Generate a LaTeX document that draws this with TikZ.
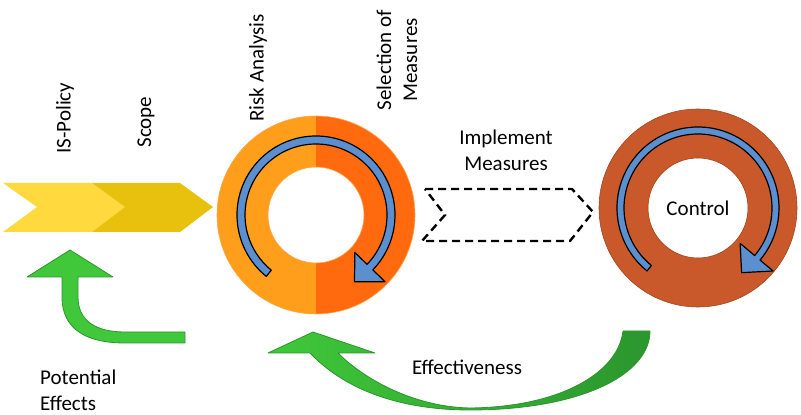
\documentclass[tikz,border=0pt]{standalone}
\usepackage{fontspec}
\setmainfont{Carlito}
\usepackage{xcolor}
\usepackage{tikz}
\usetikzlibrary{calc}

\definecolor{policyyellow}{HTML}{FFD93D}
\definecolor{scopeyellow}{HTML}{E8C00E}
\definecolor{riskorange}{HTML}{FF9E1A}
\definecolor{selectorange}{HTML}{FF6A0E}
\definecolor{controlrust}{HTML}{C9592B}
\definecolor{loopblue}{HTML}{5C8FD0}
\definecolor{effectgreen}{HTML}{40C83A}
\definecolor{effectdark}{HTML}{2B962E}

\begin{document}
\begin{tikzpicture}[x=1pt, y=1pt,
  txt/.style={font=\fontsize{21}{26}\selectfont, inner sep=0pt, align=center},
  loop/.style={fill=loopblue, draw=black, line width=1.2pt, line join=round},
  greenarrow/.style={draw=effectdark, line width=0.8pt, line join=round}]

\useasboundingbox (0,0) rectangle (801,415);

\coordinate (risk) at (316,200);
\coordinate (ctrl) at (698,207);

% chevrons
\fill[policyyellow] (3,232) -- (92,232) -- (125,208) -- (92,183) -- (3,183) -- (37,208) -- cycle;
\fill[scopeyellow] (92,232) -- (180,232) -- (213,208) -- (180,183) -- (92,183) -- (125,208) -- cycle;

% first ring
\fill[riskorange] ($(risk)+(90:99)$) arc[start angle=90, end angle=270, radius=99]
  -- ($(risk)+(270:48)$) arc[start angle=270, end angle=90, radius=48] -- cycle;
\fill[selectorange] ($(risk)+(90:99)$) arc[start angle=90, end angle=-90, radius=99]
  -- ($(risk)+(-90:48)$) arc[start angle=-90, end angle=90, radius=48] -- cycle;
\draw[orange!70, line width=0.6pt] (risk) circle[radius=99];
\draw[orange!70, line width=0.6pt] (risk) circle[radius=48];
\path[loop] ($(risk)+(231:79)$) arc[start angle=231, end angle=-44, radius=79]
  -- ($(risk)+(-44:96)$) -- ($(risk)+(-60:77)$) -- ($(risk)+(-44:54)$)
  -- ($(risk)+(-44:71)$) arc[start angle=-44, end angle=231, radius=71] -- cycle;

% second ring
\fill[controlrust, even odd rule] (ctrl) circle[radius=99] (ctrl) circle[radius=50];
\draw[controlrust!80!black, line width=0.6pt] (ctrl) circle[radius=99];
\draw[controlrust!80!black, line width=0.6pt] (ctrl) circle[radius=50];
\path[loop] ($(ctrl)+(231:81)$) arc[start angle=231, end angle=-40, radius=81]
  -- ($(ctrl)+(-40:98)$) -- ($(ctrl)+(-56:78)$) -- ($(ctrl)+(-40:55)$)
  -- ($(ctrl)+(-40:74)$) arc[start angle=-40, end angle=231, radius=74] -- cycle;
\node[txt] (control) at (ctrl) {Control};

% dashed step
\draw[dashed, line width=2.4pt, dash pattern=on 8pt off 5pt]
  (425,226) -- (572,226) -- (593,203) -- (570,174) -- (422,174) -- (445,200) -- cycle;

% green arrows
\path[greenarrow, fill=effectgreen] (27,138) -- (62,138) -- (62,118) .. controls (62,86) and (86,72) .. (125,72)
  -- (185,72) -- (185,83) -- (125,83) .. controls (96,83) and (78,94) .. (78,118)
  -- (78,138) -- (113,138) -- (70,165) -- cycle;
\path[greenarrow, left color=effectgreen, right color=effectdark]
  (268,62) -- (310,62) .. controls (350,20) and (410,5) .. (470,5)
  .. controls (580,5) and (650,40) .. (650,84) -- (623,84)
  .. controls (618,42) and (560,8) .. (470,7)
  .. controls (415,8) and (365,35) .. (338,62) -- (375,62) -- (313,83) -- cycle;

% labels
\node[txt, rotate=90] (policy) at (65,297) {IS-Policy};
\node[txt, rotate=90] (scope) at (146,293) {Scope};
\node[txt, rotate=90] (analysis) at (258,347) {Risk Analysis};
\node[txt, rotate=90] (selection) at (397,355) {Selection of\\Measures};
\node[txt] (implement) at (506,265) {Implement\\Measures};
\node[txt, align=left, anchor=west] (effects) at (40,25) {Potential\\Effects};
\node[txt] (effective) at (467,48) {Effectiveness};

\end{tikzpicture}
\end{document}
